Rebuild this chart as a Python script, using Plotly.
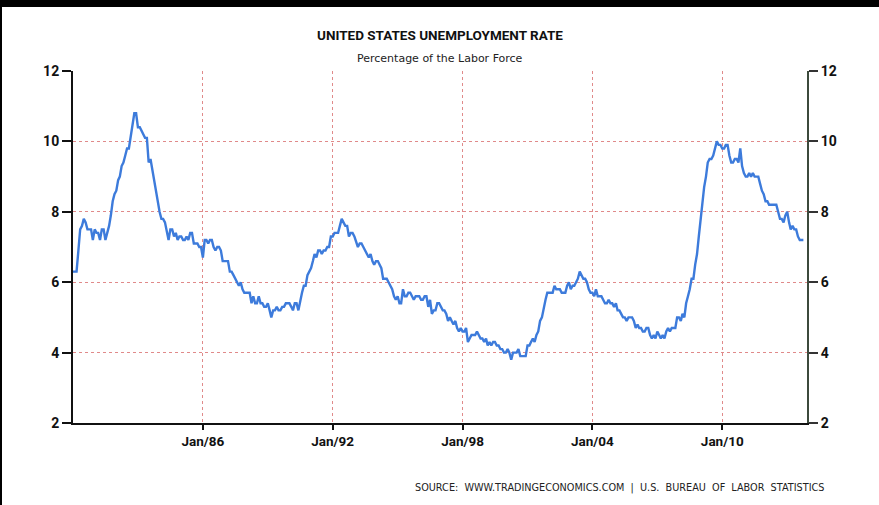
import pandas as pd
import plotly.graph_objects as go

# Monthly US unemployment rate (%), seasonally adjusted, Jan 1980 onward
rates_1980s = [
    6.3, 6.3, 6.3, 6.9, 7.5, 7.6, 7.8, 7.7, 7.5, 7.5, 7.5, 7.2,
    7.5, 7.4, 7.4, 7.2, 7.5, 7.5, 7.2, 7.4, 7.6, 7.9, 8.3, 8.5,
    8.6, 8.9, 9.0, 9.3, 9.4, 9.6, 9.8, 9.8, 10.1, 10.4, 10.8, 10.8,
    10.4, 10.4, 10.3, 10.2, 10.1, 10.1, 9.4, 9.5, 9.2, 8.8, 8.5, 8.3,
    8.0, 7.8, 7.8, 7.7, 7.4, 7.2, 7.5, 7.5, 7.3, 7.4, 7.2, 7.3,
    7.3, 7.2, 7.2, 7.3, 7.2, 7.4, 7.4, 7.1, 7.1, 7.1, 7.0, 7.0,
    6.7, 7.2, 7.2, 7.1, 7.2, 7.2, 7.0, 6.9, 7.0, 7.0, 6.9, 6.6,
    6.6, 6.6, 6.6, 6.3, 6.3, 6.2, 6.1, 6.0, 5.9, 6.0, 5.8, 5.7,
    5.7, 5.7, 5.7, 5.4, 5.6, 5.4, 5.4, 5.6, 5.4, 5.4, 5.3, 5.3,
    5.4, 5.2, 5.0, 5.2, 5.2, 5.3, 5.2, 5.2, 5.3, 5.3, 5.4, 5.4,
]
rates_1990s = [
    5.4, 5.3, 5.2, 5.4, 5.4, 5.2, 5.5, 5.7, 5.9, 5.9, 6.2, 6.3,
    6.4, 6.6, 6.8, 6.7, 6.9, 6.9, 6.8, 6.9, 6.9, 7.0, 7.0, 7.3,
    7.3, 7.4, 7.4, 7.4, 7.6, 7.8, 7.7, 7.6, 7.6, 7.3, 7.4, 7.4,
    7.3, 7.1, 7.0, 7.1, 7.1, 7.0, 6.9, 6.8, 6.7, 6.8, 6.6, 6.5,
    6.6, 6.6, 6.5, 6.4, 6.1, 6.1, 6.1, 6.0, 5.9, 5.8, 5.6, 5.5,
    5.6, 5.4, 5.4, 5.8, 5.6, 5.6, 5.7, 5.7, 5.6, 5.5, 5.6, 5.6,
    5.6, 5.5, 5.5, 5.6, 5.6, 5.3, 5.5, 5.1, 5.2, 5.2, 5.4, 5.4,
    5.3, 5.2, 5.2, 5.1, 4.9, 5.0, 4.9, 4.8, 4.9, 4.7, 4.6, 4.7,
    4.6, 4.6, 4.7, 4.3, 4.4, 4.5, 4.5, 4.5, 4.6, 4.5, 4.4, 4.4,
    4.3, 4.4, 4.2, 4.3, 4.2, 4.3, 4.3, 4.2, 4.2, 4.1, 4.1, 4.0,
]
rates_2000s = [
    4.0, 4.1, 4.0, 3.8, 4.0, 4.0, 4.0, 4.1, 3.9, 3.9, 3.9, 3.9,
    4.2, 4.2, 4.3, 4.4, 4.3, 4.5, 4.6, 4.9, 5.0, 5.3, 5.5, 5.7,
    5.7, 5.7, 5.7, 5.9, 5.8, 5.8, 5.8, 5.7, 5.7, 5.7, 5.9, 6.0,
    5.8, 5.9, 5.9, 6.0, 6.1, 6.3, 6.2, 6.1, 6.1, 6.0, 5.8, 5.7,
    5.7, 5.6, 5.8, 5.6, 5.6, 5.6, 5.5, 5.4, 5.4, 5.5, 5.4, 5.4,
    5.3, 5.4, 5.2, 5.2, 5.1, 5.0, 5.0, 4.9, 5.0, 5.0, 5.0, 4.9,
    4.7, 4.8, 4.7, 4.7, 4.6, 4.6, 4.7, 4.7, 4.5, 4.4, 4.5, 4.4,
    4.6, 4.5, 4.4, 4.5, 4.4, 4.6, 4.7, 4.6, 4.7, 4.7, 4.7, 5.0,
    5.0, 4.9, 5.1, 5.0, 5.4, 5.6, 5.8, 6.1, 6.1, 6.5, 6.8, 7.3,
    7.8, 8.3, 8.7, 9.0, 9.4, 9.5, 9.5, 9.6, 9.8, 10.0, 9.9, 9.9,
]
rates_2010s = [
    9.8, 9.8, 9.9, 9.9, 9.6, 9.4, 9.4, 9.5, 9.5, 9.4, 9.8, 9.3,
    9.1, 9.0, 9.0, 9.1, 9.0, 9.1, 9.0, 9.0, 9.0, 8.8, 8.6, 8.5,
    8.3, 8.3, 8.2, 8.2, 8.2, 8.2, 8.2, 8.0, 7.8, 7.8, 7.7, 7.9,
    8.0, 7.7, 7.5, 7.6, 7.5, 7.5, 7.3, 7.2, 7.2, 7.2,
]

rates = rates_1980s + rates_1990s + rates_2000s + rates_2010s
months = pd.date_range("1980-01-01", periods=len(rates), freq="MS")

tick_years = [1986, 1992, 1998, 2004, 2010]
tick_dates = [f"{y}-01-01" for y in tick_years]
tick_text = [f"Jan/{str(y)[2:]}" for y in tick_years]
y_ticks = [2, 4, 6, 8, 10, 12]

LINE_BLUE = "#3d7bdb"
GRID_RED = "#e08a8a"
TITLE_FONT = "Roboto, DejaVu Sans, sans-serif"
BODY_FONT = "DejaVu Sans, sans-serif"

fig = go.Figure()
fig.add_trace(go.Scatter(
    x=months, y=rates, mode="lines",
    line=dict(color=LINE_BLUE, width=2.4),
    showlegend=False, hoverinfo="x+y",
))
# same series on the right-hand axis so it renders with its own scale
fig.add_trace(go.Scatter(
    x=months, y=rates, mode="lines", yaxis="y2",
    line=dict(color="rgba(0,0,0,0)", width=0),
    showlegend=False, hoverinfo="skip",
))

W, H = 879, 505
ml, mr, mt, mb = 73, 72, 71, 82
pw, ph = W - ml - mr, H - mt - mb

axis_font = dict(family=TITLE_FONT, size=14, color="#111", weight="bold")

fig.update_layout(
    width=W, height=H,
    margin=dict(l=ml, r=mr, t=mt, b=mb, pad=0),
    paper_bgcolor="white", plot_bgcolor="white",
    xaxis=dict(
        range=["1980-01-01", "2013-12-01"],
        tickvals=tick_dates, ticktext=tick_text,
        ticks="outside", ticklen=5, tickwidth=1.5, tickcolor="#111",
        showline=True, linecolor="#111", linewidth=2,
        showgrid=True, gridcolor=GRID_RED, griddash="dot", gridwidth=1,
        tickfont=dict(family=TITLE_FONT, size=13.5, color="#111", weight="bold"),
        zeroline=False, fixedrange=True,
    ),
    yaxis=dict(
        range=[2, 12], tickvals=y_ticks,
        ticks="outside", ticklen=9, tickwidth=1.5, tickcolor="#111",
        showline=True, linecolor="#111", linewidth=2,
        showgrid=True, gridcolor=GRID_RED, griddash="dot", gridwidth=1,
        tickfont=axis_font, zeroline=False,
    ),
    yaxis2=dict(
        range=[2, 12], tickvals=y_ticks, overlaying="y", side="right",
        ticks="outside", ticklen=9, tickwidth=1.5, tickcolor="#333",
        showline=True, linecolor="#3c4a3c", linewidth=2,
        showgrid=False, tickfont=axis_font, zeroline=False,
    ),
    annotations=[
        dict(text="UNITED STATES UNEMPLOYMENT RATE", xref="paper", yref="paper",
             x=(440 - ml) / pw, y=1 + (mt - 35) / ph, xanchor="center", yanchor="middle",
             showarrow=False, font=dict(family=TITLE_FONT, size=13.5, color="#111", weight="bold")),
        dict(text="Percentage of the Labor Force", xref="paper", yref="paper",
             x=(440 - ml) / pw, y=1 + (mt - 58) / ph, xanchor="center", yanchor="middle",
             showarrow=False, font=dict(family=BODY_FONT, size=11, color="#222")),
        dict(text="SOURCE:  WWW.TRADINGECONOMICS.COM  |  U.S.  BUREAU  OF  LABOR  STATISTICS",
             xref="paper", yref="paper",
             x=(826 - ml) / pw, y=-(488 - (mt + ph)) / ph, xanchor="right", yanchor="middle",
             showarrow=False, font=dict(family=BODY_FONT, size=9.7, color="#222")),
    ],
    shapes=[
        # black band along the top edge
        dict(type="rect", xref="paper", yref="paper",
             x0=-ml / pw, x1=1 + mr / pw, y0=1 + (mt - 7) / ph, y1=1 + mt / ph,
             fillcolor="black", line=dict(width=0), layer="above"),
        # thin black strip on the left edge
        dict(type="rect", xref="paper", yref="paper",
             x0=-ml / pw, x1=-(ml - 2) / pw, y0=-mb / ph, y1=1 + mt / ph,
             fillcolor="black", line=dict(width=0), layer="above"),
    ],
)

fig.write_html("out.html")
